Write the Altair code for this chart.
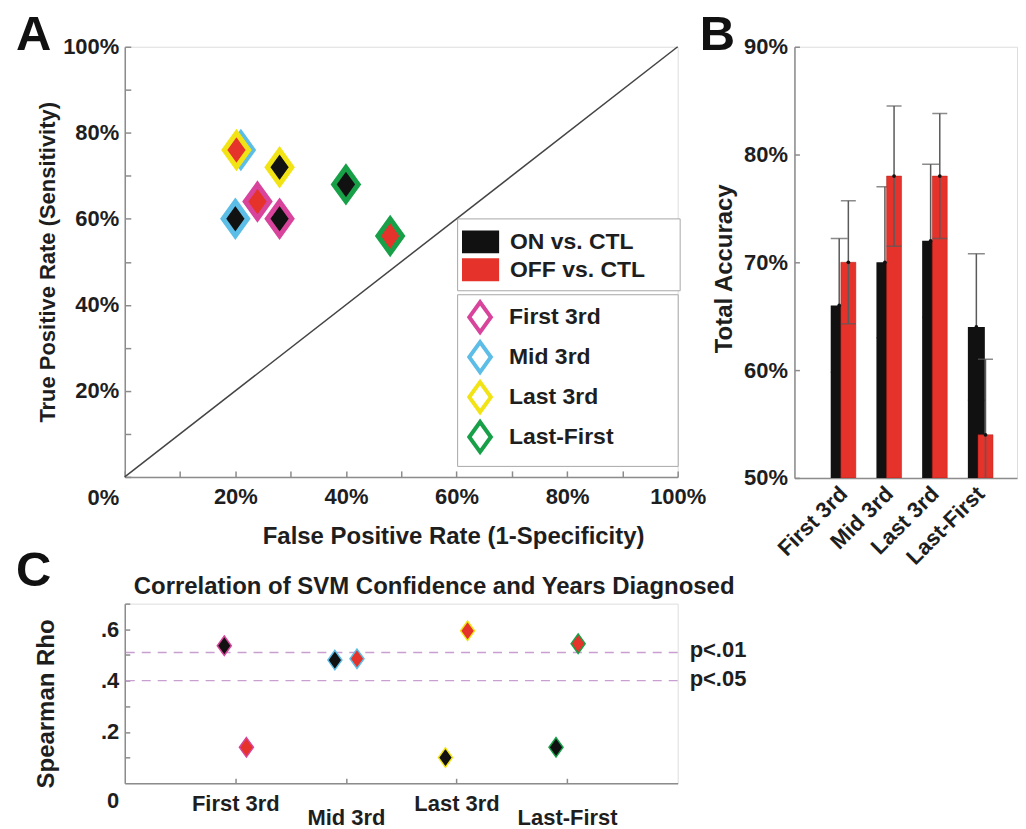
import json
import altair as alt
import pandas as pd

FONT = "Liberation Sans"
INK = "#1e1e1e"
AXIS_GRAY = "#8c8c8c"
NBSP = "\u00a0"
ZWSP = "\u200b"

# ---------------- data ----------------
groups = ["First 3rd", "Mid 3rd", "Last 3rd", "Last-First"]
comparisons = ["ON vs. CTL", "OFF vs. CTL"]
group_colors = ["#d8449c", "#5cbde6", "#f2e414", "#17a048"]
comp_colors = ["#111111", "#e5322a"]

# Panel A (ROC space, %)
fpr_on = [28, 20, 28, 40]
tpr_on = [60, 60, 72, 68]
fpr_off = [24, 21, 20.2, 48]
tpr_off = [64, 76, 76, 56]
chance_x = [0, 100]
chance_y = [0, 100]

# Panel B (total accuracy, %)
acc_on = [66, 70, 72, 64]
err_on = [6.2, 7.0, 7.1, 6.8]
acc_off = [70, 78, 78, 54]
err_off = [5.7, 6.5, 5.8, 7.0]

# Panel C (Spearman rho)
rho_on = [0.536, 0.48, 0.10, 0.14]
rho_off = [0.14, 0.485, 0.594, 0.544]
thresholds = [0.51, 0.40]
threshold_labels = ["p<.01", "p<.05"]

# ---------------- layout constants ----------------
wA, hA = 554, 431
wB, hB = 223, 432
wC, hC = 554, 180
DIAMOND = "M0,-1L0.72,0L0,1L-0.72,0Z"
RECT = "M-1.2,-0.74L1.2,-0.74L1.2,0.74L-1.2,0.74Z"

fill_scale = alt.Scale(domain=comparisons, range=comp_colors)
stroke_scale = alt.Scale(domain=groups, range=group_colors)

lab = dict(labelFont=FONT, labelFontSize=22, labelFontWeight="bold", labelColor=INK)
leglab = dict(labelFont=FONT, labelFontSize=23, labelFontWeight="bold", labelColor=INK)


def ttl(size):
    return dict(titleFont=FONT, titleFontSize=size, titleFontWeight="bold", titleColor=INK)


def pad_label(n):
    # widen the legend box with trailing non-breaking spaces (kept by a zero-width char)
    return "datum.label + '" + NBSP * n + ZWSP + "'"


letter = dict(anchor="start", frame="group", offset=0, font=FONT, fontSize=49,
              fontWeight="bold", color="#111111")


def tick_axis(orient, offset, values, size=6):
    return alt.Axis(orient=orient, offset=offset, values=values, labels=False,
                    domain=False, ticks=True, tickSize=size, tickColor=AXIS_GRAY,
                    tickWidth=1.5, grid=False, title=None)


# ---------------- panel A ----------------
draw_off = {"Mid 3rd": 0, "Last 3rd": 1, "First 3rd": 2, "Last-First": 3}
rowsA = []
for i, g in enumerate(groups):
    rowsA.append(dict(group=g, comparison=comparisons[1], fpr=fpr_off[i], tpr=tpr_off[i], z=draw_off[g]))
    rowsA.append(dict(group=g, comparison=comparisons[0], fpr=fpr_on[i], tpr=tpr_on[i], z=10 + i))
dfA = pd.DataFrame(rowsA)
dfChance = pd.DataFrame({"fpr": chance_x, "tpr": chance_y})

xA = alt.Scale(domain=[0, 100])
yA = alt.Scale(domain=[0, 100])

chance = alt.Chart(dfChance).mark_line(color="#444444", strokeWidth=1.5).encode(
    x=alt.X("fpr:Q", scale=xA, axis=None),
    y=alt.Y("tpr:Q", scale=yA, axis=None),
)

ptsA = alt.Chart(dfA).mark_point(
    shape=DIAMOND, size=1156, strokeWidth=5, filled=True, opacity=1,
    fillOpacity=1, strokeOpacity=1, strokeJoin="miter",
).encode(
    x=alt.X("fpr:Q", scale=xA, axis=alt.Axis(
        values=[20, 40, 60, 80, 100], labelExpr="datum.value + '%'", ticks=False,
        domainColor=AXIS_GRAY, domainWidth=1.5, labelPadding=10, labelFlush=False,
        labelOverlap=False, grid=False, title="False Positive Rate (1-Specificity)",
        titlePadding=17, titleX=329, **lab, **ttl(24))),
    y=alt.Y("tpr:Q", scale=yA, axis=alt.Axis(
        values=[0, 20, 40, 60, 80, 100], labelExpr="datum.value + '%'", ticks=False,
        domainColor=AXIS_GRAY, domainWidth=1.5, labelPadding=6, labelFlush=False,
        labelOverlap=False, grid=False,
        labelOffset={"condition": {"test": "datum.value === 0", "value": 21}, "value": 0},
        title="True Positive Rate (Sensitivity)", titlePadding=3, **lab, **ttl(22))),
    fill=alt.Fill("comparison:N", scale=fill_scale, legend=alt.Legend(
        title=None, orient="none", legendX=333, legendY=172, symbolType=RECT,
        symbolSize=961, symbolStrokeWidth=0, labelOffset=14, rowPadding=0,
        padding=8, strokeColor="#a8a8a8", fillColor="white", labelLimit=400,
        labelExpr=pad_label(4), **leglab)),
    stroke=alt.Stroke("group:N", scale=stroke_scale, legend=alt.Legend(
        title=None, orient="none", legendX=333, legendY=248, symbolType=DIAMOND,
        symbolSize=900, symbolStrokeWidth=4, symbolFillColor="white",
        labelOffset=12, rowPadding=-6, padding=6, strokeColor="#a8a8a8",
        fillColor="white", labelLimit=400, labelExpr=pad_label(9), **leglab)),
    order=alt.Order("z:Q"),
)

ticksA = alt.Chart(dfA).mark_point(opacity=0).encode(
    x=alt.X("fpr:Q", scale=xA, axis=tick_axis("top", -hA, list(range(0, 101, 10)))),
    y=alt.Y("tpr:Q", scale=yA, axis=tick_axis("right", -wA, list(range(0, 101, 10)))),
)

panelA = alt.layer(chance, ptsA, ticksA).resolve_axis(x="independent", y="independent").properties(
    width=wA, height=hA, title=alt.Title("A", dx=-109, dy=24, **letter),
)

# ---------------- panel B ----------------
rowsB = []
for i, g in enumerate(groups):
    rowsB.append(dict(group=g, comparison=comparisons[0], x=i + 1 - 0.09, acc=acc_on[i],
                      lo=acc_on[i] - err_on[i], hi=acc_on[i] + err_on[i]))
    rowsB.append(dict(group=g, comparison=comparisons[1], x=i + 1 + 0.11, acc=acc_off[i],
                      lo=acc_off[i] - err_off[i], hi=acc_off[i] + err_off[i]))
dfB = pd.DataFrame(rowsB)
xB = alt.Scale(domain=[0.04, 4.69])
yB = alt.Scale(domain=[50, 90], zero=False)
on_only = alt.datum.comparison == comparisons[0]
off_only = alt.datum.comparison == comparisons[1]

base_B = alt.Chart(dfB)
x_none = alt.X("x:Q", scale=xB, axis=None)


def err_layers(filt, width):
    rule = base_B.mark_rule(color="#5a5a5a", strokeWidth=1.5, clip=True).encode(
        x=x_none, y=alt.Y("lo:Q", scale=yB, axis=None), y2="hi:Q").transform_filter(filt)
    cap_hi = base_B.mark_tick(color="#5a5a5a", thickness=1.5, size=width, orient="horizontal",
                              clip=True).encode(
        x=x_none, y=alt.Y("hi:Q", scale=yB, axis=None)).transform_filter(filt)
    cap_lo = base_B.mark_tick(color="#5a5a5a", thickness=1.5, size=width, orient="horizontal",
                              clip=True).encode(
        x=x_none, y=alt.Y("lo:Q", scale=yB, axis=None)).transform_filter(filt)
    return [rule, cap_hi, cap_lo]


bars_on = base_B.mark_bar(size=17, color=comp_colors[0], clip=True).encode(
    x=alt.X("x:Q", scale=xB, axis=alt.Axis(
        values=[1, 2, 3, 4], labelExpr=json.dumps(groups) + "[datum.value - 1]",
        labelAngle=-45, labelAlign="right", labelBaseline="middle", ticks=False,
        domainColor=AXIS_GRAY, domainWidth=1.5, labelPadding=12, labelFlush=False,
        labelOverlap=False, grid=False, title=None, **lab)),
    y=alt.Y("acc:Q", scale=yB, axis=alt.Axis(
        values=[50, 60, 70, 80, 90], labelExpr="datum.value + '%'", ticks=False,
        domainColor=AXIS_GRAY, domainWidth=1.5, labelPadding=7, labelFlush=False,
        labelOverlap=False, grid=False, title="Total Accuracy", titlePadding=7,
        titleY=222, **lab, **ttl(24))),
    y2=alt.datum(50),
).transform_filter(on_only)

bars_off = base_B.mark_bar(size=15, color=comp_colors[1], stroke="#b02018", strokeWidth=0.5,
                           clip=True).encode(
    x=x_none, y=alt.Y("acc:Q", scale=yB, axis=None), y2=alt.datum(50),
).transform_filter(off_only)

dots_B = base_B.mark_point(filled=True, color="#111111", size=14, opacity=1).encode(
    x=x_none, y=alt.Y("acc:Q", scale=yB, axis=None))

ticksB = base_B.mark_point(opacity=0).encode(
    x=x_none,
    y=alt.Y("acc:Q", scale=yB, axis=tick_axis("right", -wB, [50, 60, 70, 80, 90], 5)),
)

panelB = alt.layer(*err_layers(on_only, 17), bars_on, bars_off, *err_layers(off_only, 15),
                   dots_B, ticksB).resolve_axis(x="independent", y="independent").properties(
    width=wB, height=hB, title=alt.Title("B", dx=-95, dy=24, **letter),
)

# ---------------- panel C ----------------
rowsC = []
for i, g in enumerate(groups):
    rowsC.append(dict(group=g, comparison=comparisons[0], x=i + 1 - 0.1, rho=rho_on[i]))
    rowsC.append(dict(group=g, comparison=comparisons[1], x=i + 1 + 0.1, rho=rho_off[i]))
dfC = pd.DataFrame(rowsC)
dfT = pd.DataFrame({"thr": thresholds, "label": threshold_labels})
xC = alt.Scale(domain=[0, 5])
yC = alt.Scale(domain=[0, 0.7])

thr_rules = alt.Chart(dfT).mark_rule(color="#c89fd0", strokeWidth=1.5, strokeDash=[9, 7]).encode(
    y=alt.Y("thr:Q", scale=yC, axis=None))
thr_text = alt.Chart(dfT).mark_text(align="left", baseline="middle", dx=12, dy=-2, font=FONT,
                                    fontSize=22, fontWeight="bold", color=INK).encode(
    x=alt.X(datum=5, scale=xC, axis=None),
    y=alt.Y("thr:Q", scale=yC, axis=None), text="label:N")

ptsC = alt.Chart(dfC).mark_point(shape=DIAMOND, size=380, strokeWidth=1.5, filled=True,
                                 opacity=1, fillOpacity=1, strokeOpacity=1).encode(
    x=alt.X("x:Q", scale=xC, axis=alt.Axis(
        values=[1, 2, 3, 4], labelExpr=json.dumps(groups) + "[datum.value - 1]", ticks=False,
        domainColor=AXIS_GRAY, domainWidth=1.5, labelFlush=False, labelOverlap=False,
        labelPadding={"condition": {"test": "datum.value % 2 === 0", "value": 24}, "value": 10},
        grid=False, title=None, **lab)),
    y=alt.Y("rho:Q", scale=yC, axis=alt.Axis(
        values=[0, 0.2, 0.4, 0.6],
        labelExpr="datum.value === 0 ? '0' : replace(format(datum.value, '.1f'), '0.', '.')",
        ticks=False, domainColor=AXIS_GRAY, domainWidth=1.5, labelPadding=6, labelFlush=False,
        labelOverlap=False, grid=False,
        labelOffset={"condition": {"test": "datum.value === 0", "value": 17}, "value": 0},
        title="Spearman Rho", titlePadding=42, titleY=100, **lab, **ttl(24))),
    fill=alt.Fill("comparison:N", scale=fill_scale, legend=None),
    stroke=alt.Stroke("group:N", scale=stroke_scale, legend=None),
)

ticksC = alt.Chart(dfC).mark_point(opacity=0).encode(
    x=alt.X("x:Q", scale=xC, axis=tick_axis("top", -hC, [1, 2, 3, 4], 5)),
    y=alt.Y("rho:Q", scale=yC, axis=tick_axis("right", -wC, [0.1, 0.2, 0.3, 0.4, 0.5, 0.6, 0.7], 5)),
)

panelC = alt.layer(thr_rules, thr_text, ptsC, ticksC).resolve_axis(
    x="independent", y="independent").properties(
    width=wC, height=hC,
    title=alt.Title("Correlation of SVM Confidence and Years Diagnosed", anchor="middle",
                    frame="group", dx=33, offset=4, font=FONT, fontSize=24,
                    fontWeight="bold", color=INK),
)

panelC_wrap = alt.vconcat(panelC, bounds="flush").properties(
    title=alt.Title("C", dx=-109, dy=22, **letter))

chart = alt.concat(panelA, panelB, panelC_wrap, columns=2,
                   spacing={"row": 126, "column": 117}, bounds="flush").properties(
    padding={"left": 7, "top": 1, "right": 0, "bottom": 0},
).configure_view(stroke=None).configure(font=FONT)

chart.save("out.html", embed_options={"renderer": "svg", "actions": False})
